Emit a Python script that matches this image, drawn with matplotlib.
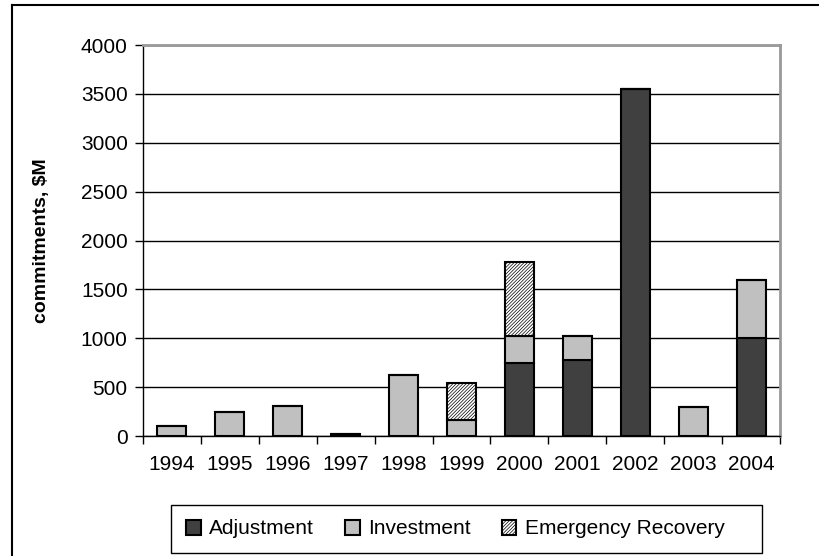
import matplotlib.pyplot as plt
from matplotlib.lines import Line2D
from matplotlib.patches import Rectangle
import numpy as np

plt.rcParams['font.family'] = ['Liberation Sans', 'DejaVu Sans']
plt.rcParams['hatch.linewidth'] = 0.5

years = ['1994', '1995', '1996', '1997', '1998', '1999',
         '2000', '2001', '2002', '2003', '2004']
adjustment = [0, 0, 0, 0, 0, 0, 750, 775, 3550, 0, 1000]
investment = [100, 250, 310, 20, 620, 160, 270, 245, 0, 300, 600]
emergency = [0, 0, 0, 0, 0, 380, 760, 0, 0, 0, 0]

fig = plt.figure(figsize=(8.2, 5.56), dpi=100)
ax = fig.add_axes([0.1744, 0.2158, 0.7768, 0.7032])

x = np.arange(len(years))
adj = np.array(adjustment)
inv = np.array(investment)
emg = np.array(emergency)

w = 0.5
ax.bar(x, adj, w, color='#404040', edgecolor='black', linewidth=1.5,
       label='Adjustment', zorder=3)
ax.bar(x, inv, w, bottom=adj, color='#c0c0c0', edgecolor='black',
       linewidth=1.5, label='Investment', zorder=3)
ax.bar(x, emg, w, bottom=adj + inv, color='white', edgecolor='black',
       linewidth=1.5, hatch='//////////', label='Emergency Recovery', zorder=3)

ax.set_xlim(-0.5, len(years) - 0.5)
ax.set_ylim(0, 4000)
ax.set_yticks(range(0, 4001, 500))
ax.set_xticks(x)
ax.set_xticklabels(years)
ax.set_xticks(np.arange(-0.5, len(years)), minor=True)
ax.tick_params(axis='x', which='major', length=0, pad=14, labelsize=15)
ax.tick_params(axis='x', which='minor', length=6, width=1, direction='out')
ax.tick_params(axis='y', length=6, width=1, direction='out', labelsize=15, pad=5)

ax.yaxis.grid(True, color='black', linewidth=1, zorder=0)
ax.set_axisbelow(True)

for side in ['top', 'right']:
    ax.spines[side].set_color('#999999')
    ax.spines[side].set_linewidth(2)
ax.spines['left'].set_linewidth(1)
ax.spines['bottom'].set_linewidth(1)

ax.set_ylabel('commitments, $M', fontsize=14, fontweight='bold', labelpad=22)

# legend entries without frame, box drawn separately
handles, labels = ax.get_legend_handles_labels()
leg = fig.legend(handles, labels, loc='center left',
                 bbox_to_anchor=(186 / 820, 1 - 529 / 556),
                 ncol=3, fontsize=15, frameon=False, borderpad=0,
                 borderaxespad=0, handlelength=0.7, handleheight=0.7,
                 handletextpad=0.4, columnspacing=1.5)
fig.add_artist(Rectangle((171 / 820, 1 - 553 / 556), 591 / 820, 48 / 556,
                         transform=fig.transFigure, fill=False,
                         edgecolor='black', linewidth=1))

# outer chart frame (left and top edges)
fig.add_artist(Line2D([12 / 820, 12 / 820], [0, 1 - 5 / 556],
                      transform=fig.transFigure, color='black', linewidth=1.5))
fig.add_artist(Line2D([12 / 820, 1], [1 - 5 / 556, 1 - 5 / 556],
                      transform=fig.transFigure, color='black', linewidth=1.5))

fig.savefig('out.png', dpi=100)
